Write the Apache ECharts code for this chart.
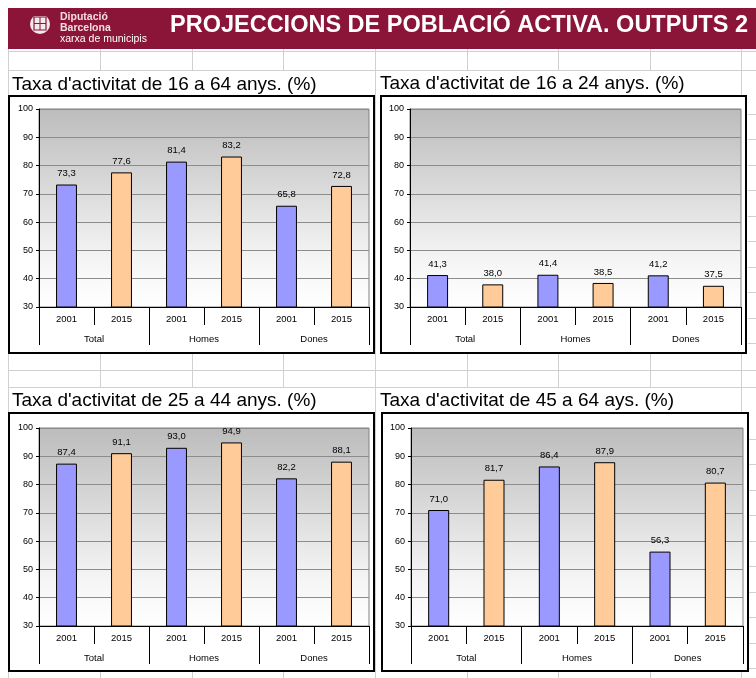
<!DOCTYPE html>
<html>
<head>
<meta charset="utf-8">
<script src="https://cdn.jsdelivr.net/npm/echarts@6/dist/echarts.min.js"></script>
<style>
html,body{margin:0;padding:0;background:#fff;}
#chart{width:756px;height:678px;}
</style>
</head>
<body>
<div id="chart"></div>
<script>
// ---- data ----
const categories = ['2001', '2015', '2001', '2015', '2001', '2015'];
const groups = ['Total', 'Homes', 'Dones'];
const panelTitles = [
  "Taxa d'activitat de 16 a 64 anys. (%)",
  "Taxa d'activitat de 16 a 24 anys. (%)",
  "Taxa d'activitat de 25 a 44 anys. (%)",
  "Taxa d'activitat de 45 a 64 ays. (%)"
];
const values16to64 = [73.3, 77.6, 81.4, 83.2, 65.8, 72.8];
const values16to24 = [41.3, 38.0, 41.4, 38.5, 41.2, 37.5];
const values25to44 = [87.4, 91.1, 93.0, 94.9, 82.2, 88.1];
const values45to64 = [71.0, 81.7, 86.4, 87.9, 56.3, 80.7];
const yMin = 30, yMax = 100, yStep = 10;
const headerTitle = 'PROJECCIONS DE POBLACIÓ ACTIVA. OUTPUTS 2';

// ---- layout / style ----
const FONT = '"Liberation Sans", Arial, sans-serif';
const barColors = ['#9999FF', '#FFCC99'];
const panelData = [values16to64, values16to24, values25to44, values45to64];
const grids = [
  {left: 39, top: 109, width: 330, height: 198},
  {left: 410, top: 109, width: 331, height: 198},
  {left: 39, top: 428, width: 330, height: 198},
  {left: 411, top: 428, width: 332, height: 198}
];
const boxes = [
  {x: 9, y: 96, w: 365, h: 257},
  {x: 381, y: 96, w: 365, h: 257},
  {x: 9, y: 413, w: 365, h: 258},
  {x: 382, y: 413, w: 366, h: 258}
];
const titlePos = [{x: 12, y: 85}, {x: 380, y: 84}, {x: 12, y: 401}, {x: 380, y: 401}];

const chart = echarts.init(document.getElementById('chart'), null, {renderer: 'canvas'});

const graphics = [];
const SHEET = '#d0d0d0';
function hline(y, x1, x2) { graphics.push({type: 'line', z: -20, shape: {x1: x1, y1: y + 0.5, x2: x2, y2: y + 0.5}, style: {stroke: SHEET, lineWidth: 1}}); }
function vline(x, y1, y2) { graphics.push({type: 'line', z: -20, shape: {x1: x + 0.5, y1: y1, x2: x + 0.5, y2: y2}, style: {stroke: SHEET, lineWidth: 1}}); }

// spreadsheet grid
const cols = [100, 192, 283, 375, 467, 558, 650, 741];
vline(8, 48, 678);
hline(51, 8, 756); hline(70, 8, 756);
hline(370, 8, 756); hline(387, 8, 756);
cols.forEach(c => { vline(c, 48, 70); vline(c, 353, 387); vline(c, 671, 678); });
vline(375, 48, 678); vline(741, 48, 96); vline(741, 387, 413);
[114, 139, 165, 190, 216, 241, 267, 292, 318, 343, 439, 464, 490, 515, 541, 566, 592, 617, 643, 668].forEach(y => hline(y, 748, 756));

// header band
graphics.push({type: 'rect', z: -10, shape: {x: 8, y: 8, width: 748, height: 41}, style: {fill: '#8A1538'}});
// logo
graphics.push({type: 'circle', z: -9, shape: {cx: 40, cy: 24, r: 10}, style: {fill: '#f4e9ec'}});
graphics.push({type: 'rect', z: -8, shape: {x: 34, y: 17, width: 12, height: 13}, style: {fill: 'none', stroke: '#8A1538', lineWidth: 1.2}});
graphics.push({type: 'line', z: -8, shape: {x1: 40, y1: 17, x2: 40, y2: 30}, style: {stroke: '#8A1538', lineWidth: 1}});
graphics.push({type: 'line', z: -8, shape: {x1: 34, y1: 23.5, x2: 46, y2: 23.5}, style: {stroke: '#8A1538', lineWidth: 1}});
graphics.push({type: 'rect', z: -8, shape: {x: 33, y: 14, width: 14, height: 2}, style: {fill: '#8A1538'}});
graphics.push({type: 'text', z: -8, x: 60, y: 17, style: {text: 'Diputació', fill: '#f6dde4', font: 'bold 10.5px ' + FONT, verticalAlign: 'middle'}});
graphics.push({type: 'text', z: -8, x: 60, y: 28, style: {text: 'Barcelona', fill: '#f6dde4', font: 'bold 10.5px ' + FONT, verticalAlign: 'middle'}});
graphics.push({type: 'text', z: -8, x: 60, y: 39, style: {text: 'xarxa de municipis', fill: '#ffffff', font: '10.5px ' + FONT, verticalAlign: 'middle'}});
graphics.push({type: 'text', z: -8, x: 170, y: 26, style: {text: headerTitle, fill: '#ffffff', font: 'bold 23.5px ' + FONT, verticalAlign: 'middle'}});

// panel boxes and titles
boxes.forEach((b, i) => {
  graphics.push({type: 'rect', z: -5, shape: {x: b.x, y: b.y, width: b.w, height: b.h}, style: {fill: '#ffffff', stroke: '#000000', lineWidth: 2}});
  graphics.push({type: 'text', z: -4, x: titlePos[i].x, y: titlePos[i].y, style: {text: panelTitles[i], fill: '#000', font: '19px ' + FONT, verticalAlign: 'middle'}});
});

const fmt = v => v.toFixed(1).replace('.', ',');

const option = {
  animation: false,
  backgroundColor: '#ffffff',
  graphic: {elements: graphics},
  grid: grids.map(g => ({
    left: g.left, top: g.top, width: g.width, height: g.height,
    show: true,
    borderColor: '#808080', borderWidth: 1,
    backgroundColor: new echarts.graphic.LinearGradient(0, 0, 0, 1, [
      {offset: 0, color: '#bcbcbc'},
      {offset: 0.75, color: '#f4f4f4'},
      {offset: 1, color: '#ffffff'}
    ])
  })),
  xAxis: [],
  yAxis: [],
  series: []
};

grids.forEach((g, i) => {
  option.xAxis.push({
    type: 'category', gridIndex: i, data: categories, position: 'bottom',
    axisLine: {show: true, onZero: false, lineStyle: {color: '#000', width: 1}},
    axisTick: {show: true, length: 18, interval: 0, lineStyle: {color: '#000', width: 1}},
    axisLabel: {interval: 0, margin: 7, fontSize: 9.5, color: '#000', fontFamily: FONT},
    splitLine: {show: false}
  });
  option.xAxis.push({
    type: 'category', gridIndex: i, data: groups, position: 'bottom',
    axisLine: {show: false, onZero: false},
    axisTick: {show: true, length: 38, interval: 0, lineStyle: {color: '#000', width: 1}},
    axisLabel: {interval: 0, margin: 27, fontSize: 9.5, color: '#000', fontFamily: FONT},
    splitLine: {show: false}
  });
  option.yAxis.push({
    type: 'value', gridIndex: i, min: yMin, max: yMax, interval: yStep,
    axisLine: {show: true, lineStyle: {color: '#000', width: 1}},
    axisTick: {show: true, length: 3, lineStyle: {color: '#000'}},
    axisLabel: {margin: 6, fontSize: 9, color: '#000', fontFamily: FONT},
    splitLine: {show: true, lineStyle: {color: '#8c8c8c', width: 1}}
  });
  option.series.push({
    type: 'bar', xAxisIndex: i * 2, yAxisIndex: i,
    barWidth: '38%',
    data: panelData[i].map((v, k) => ({value: v, itemStyle: {color: barColors[k % 2]}})),
    itemStyle: {borderColor: '#000', borderWidth: 1},
    label: {show: true, position: 'top', distance: 6, fontSize: 9.5, color: '#000', fontFamily: FONT,
      formatter: p => fmt(p.value)}
  });
});

chart.setOption(option);
</script>
</body>
</html>
